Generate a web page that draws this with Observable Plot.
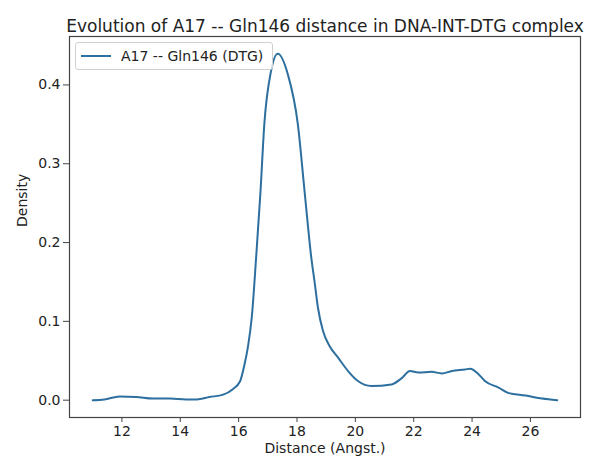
<!DOCTYPE html>
<html>
<head>
<meta charset="utf-8">
<script src="https://cdn.jsdelivr.net/npm/d3@7"></script>
<script src="https://cdn.jsdelivr.net/npm/@observablehq/plot@0.6"></script>
<style>
  html, body { margin: 0; padding: 0; background: #fff; }
  #wrap { position: relative; width: 596px; height: 461px; font-family: "DejaVu Sans", sans-serif; }
  #legend {
    position: absolute; left: 75px; top: 42px; width: 196px; height: 26px;
    border: 1px solid #d0d0d0; border-radius: 3px; background: rgba(255,255,255,0.8);
    font-size: 14px; color: #222; display: flex; align-items: center; box-sizing: content-box;
  }
  #legend svg { margin-left: 5px; margin-right: 10px; }
</style>
</head>
<body>
<div id="wrap"></div>
<script>
const titleText = "Evolution of A17 -- Gln146 distance in DNA-INT-DTG complex";
const xLabel = "Distance (Angst.)";
const yLabel = "Density";
const seriesName = "A17 -- Gln146 (DTG)";
const lineColor = "#2d6f9f";

const distance = [11.0, 11.4, 11.92, 12.5, 13.06, 13.64, 14.2, 14.57, 15.0, 15.47, 15.8, 16.05, 16.2, 16.32, 16.45, 16.6, 16.75, 16.88, 17.11, 17.34, 17.69, 18.03, 18.26, 18.49, 18.6, 18.72, 18.89, 19.12, 19.41, 19.75, 20.1, 20.55, 21.24, 21.59, 21.87, 22.16, 22.62, 22.96, 23.31, 23.76, 23.94, 24.22, 24.45, 24.91, 25.26, 25.83, 26.4, 26.92];
const density = [0.000, 0.001, 0.0047, 0.004, 0.002, 0.002, 0.001, 0.001, 0.004, 0.007, 0.014, 0.024, 0.045, 0.068, 0.105, 0.181, 0.265, 0.350, 0.4175, 0.4395, 0.413, 0.350, 0.265, 0.181, 0.151, 0.117, 0.088, 0.0685, 0.054, 0.037, 0.024, 0.018, 0.020, 0.028, 0.037, 0.035, 0.036, 0.034, 0.037, 0.039, 0.040, 0.033, 0.024, 0.016, 0.009, 0.006, 0.002, 0.000];
const xTicks = [12, 14, 16, 18, 20, 22, 24, 26];
const yTicks = [0.0, 0.1, 0.2, 0.3, 0.4];

const data = distance.map((d, i) => ({x: d, y: density[i]}));

function padded(ext, frac) {
  const span = ext[1] - ext[0];
  return [ext[0] - span * frac, ext[1] + span * frac];
}
const xDomain = padded(d3.extent(distance), 0.05);
const yDomain = padded(d3.extent(density), 0.05);

const chart = Plot.plot({
  width: 596,
  height: 461,
  marginLeft: 69,
  marginRight: 16,
  marginTop: 36,
  marginBottom: 44,
  style: {fontFamily: "DejaVu Sans, sans-serif", fontSize: "14px", color: "#222", background: "#fff"},
  x: {domain: xDomain},
  y: {domain: yDomain},
  marks: [
    Plot.line(data, {x: "x", y: "y", stroke: lineColor, strokeWidth: 2, curve: "monotone-x"}),
    Plot.frame({stroke: "#444", strokeWidth: 1.2}),
    Plot.axisX({ticks: xTicks, tickSize: 5, tickPadding: 4, fontSize: 14, label: null, stroke: "#444"}),
    Plot.axisY({ticks: yTicks, tickFormat: ".1f", tickSize: 6, tickPadding: 3, fontSize: 14, label: null, stroke: "#444"}),
    Plot.text([titleText], {text: d => d, frameAnchor: "top", dy: -17, fontSize: 17, fill: "#222"}),
    Plot.text([xLabel], {text: d => d, frameAnchor: "bottom", dy: 35, fontSize: 14, fill: "#222"}),
    Plot.text([yLabel], {text: d => d, frameAnchor: "left", dx: -47, rotate: -90, fontSize: 14, fill: "#222"})
  ]
});

const wrap = document.getElementById("wrap");
wrap.appendChild(chart);

const legend = document.createElement("div");
legend.id = "legend";
legend.innerHTML = `<svg width="30" height="4"><line x1="0" x2="30" y1="2" y2="2" stroke="${lineColor}" stroke-width="2"/></svg><span>${seriesName}</span>`;
wrap.appendChild(legend);
</script>
</body>
</html>
